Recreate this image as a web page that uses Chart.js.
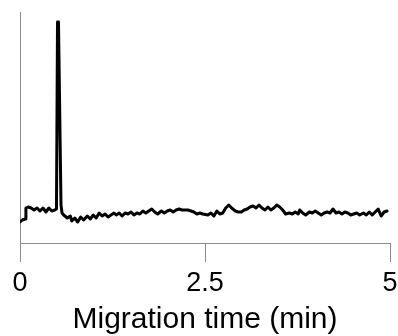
<!DOCTYPE html>
<html>
<head>
    <title>Migration time</title>
    <script src="https://cdn.jsdelivr.net/npm/chart.js@4"></script>
    <style>
        html, body { margin: 0; padding: 0; background: #fff; }
        #wrap { width: 398px; height: 336px; }
    </style>
</head>
<body>
    <div id="wrap">
        <canvas id="trace"></canvas>
    </div>

    <script>
        // migration time (min)
        var times = [
            0.00, 0.03, 0.07, 0.08, 0.11, 0.15, 0.19, 0.23, 0.27, 0.31, 0.35, 0.39, 0.43, 0.47,
            0.493, 0.507, 0.520, 0.554, 0.568,
            0.59, 0.64, 0.68, 0.70, 0.74, 0.78, 0.82, 0.86, 0.91, 0.95, 0.99, 1.03, 1.07, 1.11,
            1.15, 1.19, 1.23, 1.27, 1.30, 1.34, 1.38, 1.42, 1.46, 1.50, 1.54, 1.58, 1.62, 1.66,
            1.70, 1.74, 1.78, 1.82, 1.86, 1.91, 1.95, 1.99, 2.03, 2.07, 2.11, 2.15, 2.19, 2.23,
            2.27, 2.31, 2.35, 2.39, 2.43, 2.47, 2.54, 2.58, 2.62, 2.66, 2.70, 2.74, 2.78, 2.82,
            2.86, 2.91, 2.95, 2.99, 3.03, 3.07, 3.11, 3.15, 3.19, 3.23, 3.27, 3.31, 3.35, 3.39,
            3.43, 3.47, 3.51, 3.55, 3.59, 3.64, 3.68, 3.72, 3.76, 3.78, 3.82, 3.86, 3.91, 3.95,
            3.99, 4.03, 4.07, 4.11, 4.15, 4.19, 4.23, 4.27, 4.31, 4.35, 4.39, 4.43, 4.47, 4.51,
            4.55, 4.59, 4.64, 4.68, 4.72, 4.76, 4.80, 4.84, 4.88, 4.92, 4.96
        ];
        // detector signal (arbitrary units)
        var signal = [
            21, 23, 24, 35, 36, 35, 33, 35, 32, 35, 31, 35, 32, 33,
            34, 221, 221, 38, 30,
            28, 25, 27, 22, 25, 21, 26, 23, 27, 24, 28, 25, 30, 27,
            29, 26, 28, 30, 28, 30, 27, 30, 29, 31, 28, 30, 29, 32,
            30, 32, 34, 31, 29, 32, 30, 32, 33, 31, 33, 34, 33, 33,
            33, 32, 31, 29, 30, 29, 28, 30, 27, 32, 29, 30, 35, 38,
            35, 32, 31, 31, 33, 34, 36, 37, 35, 38, 35, 33, 36, 33,
            35, 38, 36, 33, 29, 30, 29, 31, 29, 33, 30, 28, 31, 30,
            32, 30, 28, 30, 31, 30, 34, 30, 31, 29, 31, 30, 28, 29,
            30, 28, 30, 28, 31, 28, 31, 34, 27, 31, 32
        ];
        var xTicks = [0, 2.5, 5];
        var xTitle = 'Migration time (min)';

        var points = times.map(function (t, i) { return { x: t, y: signal[i] }; });
        var axisGray = '#8c8c8c';
        var font = 'Liberation Sans, Arial, sans-serif';

        var ctx = document.getElementById('trace').getContext('2d');
        var chart = new Chart(ctx, {
            type: 'line',
            data: {
                datasets: [{
                    data: points,
                    borderColor: '#000',
                    borderWidth: 3,
                    borderJoinStyle: 'round',
                    borderCapStyle: 'round',
                    pointRadius: 0,
                    tension: 0,
                    fill: false
                }]
            },
            options: {
                responsive: true,
                maintainAspectRatio: false,
                animation: false,
                layout: { padding: { left: 20, right: 8, top: 12, bottom: 0 } },
                plugins: { legend: { display: false }, tooltip: { enabled: false } },
                scales: {
                    x: {
                        type: 'linear',
                        min: 0,
                        max: 5,
                        afterBuildTicks: function (axis) {
                            axis.ticks = xTicks.map(function (v) { return { value: v }; });
                        },
                        afterFit: function (axis) {
                            // keep the plot bottom at the reference position
                            axis.height = 93;
                            axis.paddingLeft = 0;
                            axis.paddingRight = 0;
                        },
                        grid: {
                            drawOnChartArea: false,
                            drawTicks: true,
                            tickLength: 19,
                            color: axisGray,
                            lineWidth: 1
                        },
                        border: { display: true, color: axisGray, width: 1 },
                        ticks: {
                            padding: 5,
                            maxRotation: 0,
                            color: '#000',
                            font: { family: font, size: 27 }
                        },
                        title: {
                            display: true,
                            text: xTitle,
                            color: '#000',
                            padding: { top: 0, bottom: 1 },
                            font: { family: font, size: 30, lineHeight: 1 }
                        }
                    },
                    y: {
                        min: 0,
                        max: 231,
                        grid: { display: false, drawTicks: false },
                        border: { display: true, color: axisGray, width: 1 },
                        ticks: { display: false }
                    }
                }
            }
        });
    </script>
</body>
</html>
